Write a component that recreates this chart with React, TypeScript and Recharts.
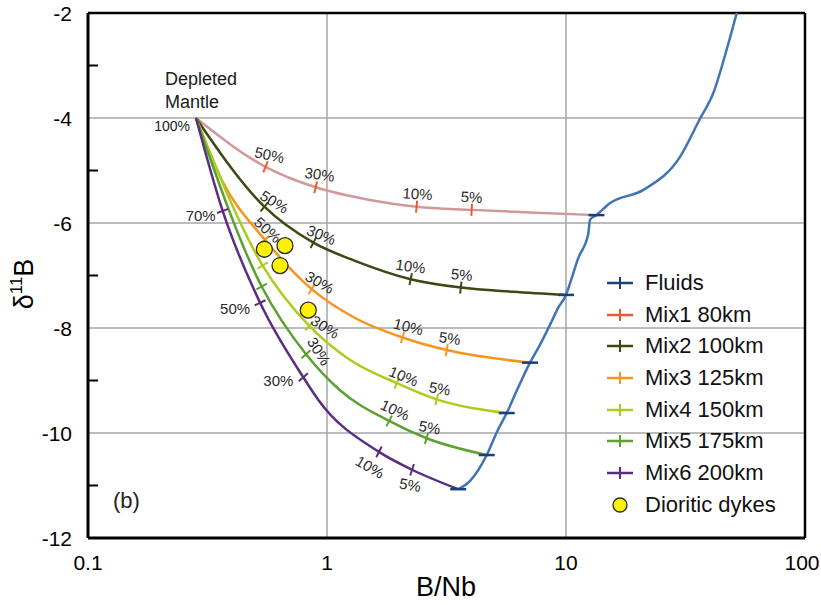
import React from 'react';
import { ComposedChart, Line, Scatter, XAxis, YAxis, ReferenceLine, Customized } from 'recharts';

// ---------- data (B/Nb, δ11B) ----------
const depletedMantle = [{ x: 0.283, y: -4 }];

const fluids = [
  { x: 3.54, y: -11.07 }, { x: 3.97, y: -10.91 }, { x: 4.66, y: -10.42 }, { x: 5.14, y: -9.98 },
  { x: 5.65, y: -9.62 }, { x: 6.3, y: -9.14 }, { x: 7.07, y: -8.66 }, { x: 7.78, y: -8.32 },
  { x: 8.57, y: -7.94 }, { x: 9.26, y: -7.62 }, { x: 10.0, y: -7.37 }, { x: 10.5, y: -7.09 },
  { x: 11.25, y: -6.67 }, { x: 12.4, y: -6.2 }, { x: 12.6, y: -5.94 }, { x: 13.4, y: -5.85 },
  { x: 15.3, y: -5.62 }, { x: 21.1, y: -5.37 }, { x: 30.0, y: -4.74 }, { x: 36.4, y: -4.01 },
  { x: 41.3, y: -3.53 }, { x: 47.0, y: -2.7 }, { x: 51.8, y: -2.0 },
];

const mix1 = [
  { x: 0.283, y: -4 },
  { x: 0.553, y: -4.93, pct: '50%' }, { x: 0.897, y: -5.32, pct: '30%' },
  { x: 1.51, y: -5.56 }, { x: 2.37, y: -5.69, pct: '10%' },
  { x: 4.03, y: -5.75, pct: '5%' }, { x: 7.07, y: -5.8 }, { x: 13.4, y: -5.85 },
];
const mix2 = [
  { x: 0.283, y: -4 },
  { x: 0.547, y: -5.69, pct: '50%' }, { x: 0.877, y: -6.375, pct: '30%' },
  { x: 1.31, y: -6.72 }, { x: 2.24, y: -7.07, pct: '10%' },
  { x: 3.63, y: -7.23, pct: '5%' }, { x: 6.0, y: -7.31 }, { x: 10.0, y: -7.37 },
];
const mix3 = [
  { x: 0.283, y: -4 }, { x: 0.364, y: -5.19 },
  { x: 0.55, y: -6.32, pct: '50%' }, { x: 0.863, y: -7.26, pct: '30%' },
  { x: 1.31, y: -7.81 }, { x: 2.07, y: -8.18, pct: '10%' },
  { x: 3.17, y: -8.42, pct: '5%' }, { x: 7.07, y: -8.66 },
];
const mix4 = [
  { x: 0.283, y: -4 },
  { x: 0.538, y: -6.81, pct: '50%' }, { x: 0.843, y: -7.96, pct: '30%' },
  { x: 1.25, y: -8.61 }, { x: 1.96, y: -9.05, pct: '10%' },
  { x: 2.88, y: -9.36, pct: '5%' }, { x: 5.65, y: -9.62 },
];
const mix5 = [
  { x: 0.283, y: -4 },
  { x: 0.533, y: -7.21, pct: '50%' }, { x: 0.817, y: -8.5, pct: '30%' },
  { x: 1.13, y: -9.18 }, { x: 1.82, y: -9.77, pct: '10%' },
  { x: 2.61, y: -10.1, pct: '5%' }, { x: 4.66, y: -10.42 },
];
const mix6 = [
  { x: 0.283, y: -4 }, { x: 0.366, y: -5.77, pct: '70%' },
  { x: 0.525, y: -7.52, pct: '50%' },
  { x: 0.796, y: -8.94, pct: '30%' }, { x: 0.92, y: -9.37 },
  { x: 1.65, y: -10.36, pct: '10%' }, { x: 2.27, y: -10.7, pct: '5%' }, { x: 3.54, y: -11.07 },
];

const dykes = [
  { x: 0.547, y: -6.5 }, { x: 0.667, y: -6.43 }, { x: 0.636, y: -6.81 }, { x: 0.835, y: -7.66 },
];

const xTicks = [0.1, 1, 10, 100];
const yTicks = [-12, -11, -10, -9, -8, -7, -6, -5, -4, -3, -2];
const gridX = [1, 10];
const gridY = [-4, -6, -8, -10];

// ---------- styles ----------
const FONT = 'Liberation Sans, Arial, Helvetica, sans-serif';
const C = {
  fluid: '#3F74B6', fluidTick: '#1B3F7A',
  mix1: '#D39797', mix1Tick: '#EC5A2C',
  mix2: '#3A4A12', mix3: '#F7941E', mix4: '#AACD1E', mix5: '#5AA032', mix6: '#5A2D82',
  grid: '#A6A6A6',
};

// tangent angle (deg, screen) of curve at tick, label offset and label rotation
type LL = { t: number; dx: number; dy: number; r: number; show?: boolean };
const lay1: Record<string, LL> = {
  '50%': { t: 22, dx: 4, dy: -12, r: 12 }, '30%': { t: 14, dx: 4, dy: -13, r: 8 },
  '10%': { t: 5, dx: 1, dy: -13, r: 4 }, '5%': { t: 3, dx: 0, dy: -13, r: 3 },
};
const lay2: Record<string, LL> = {
  '50%': { t: 40, dx: 10, dy: -5, r: 32 }, '30%': { t: 28, dx: 8, dy: -8, r: 22 },
  '10%': { t: 12, dx: 0, dy: -13, r: 8 }, '5%': { t: 6, dx: 1, dy: -13, r: 5 },
};
const lay3: Record<string, LL> = {
  '50%': { t: 48, dx: 3, dy: -10, r: 42 }, '30%': { t: 32, dx: 8, dy: -7, r: 30 },
  '10%': { t: 16, dx: 6, dy: -11, r: 14 }, '5%': { t: 10, dx: 3, dy: -12, r: 8 },
};
const lay4: Record<string, LL> = {
  '50%': { t: 58, dx: 0, dy: 0, r: 0, show: false }, '30%': { t: 42, dx: 16, dy: 1, r: 32 },
  '10%': { t: 22, dx: 7, dy: -7, r: 22 }, '5%': { t: 14, dx: 3, dy: -11, r: 10 },
};
const lay5: Record<string, LL> = {
  '50%': { t: 62, dx: 0, dy: 0, r: 0, show: false }, '30%': { t: 48, dx: 13, dy: -3, r: 58 },
  '10%': { t: 28, dx: 6, dy: -11, r: 25 }, '5%': { t: 16, dx: 3, dy: -11, r: 10 },
};
const lay6: Record<string, LL> = {
  '70%': { t: 70, dx: -22, dy: 5, r: 0 }, '50%': { t: 65, dx: -25, dy: 6, r: 0 },
  '30%': { t: 48, dx: -25, dy: 3, r: 0 }, '10%': { t: 27, dx: -9, dy: 15, r: 30 },
  '5%': { t: 18, dx: -2, dy: 15, r: 10 },
};

const ticksOf = (arr: any[]) => arr.filter((p) => p.pct);
const fluidTicks = [mix1, mix2, mix3, mix4, mix5, mix6].map((m) => m[m.length - 1]);

const makeTickShape = (color: string, layout: Record<string, LL>) => (props: any) => {
  const { cx, cy, payload } = props;
  if (cx == null || cy == null) return <g />;
  const l = layout[payload.pct] || { t: 0, dx: 0, dy: -12, r: 0 };
  const a = ((l.t + 90) * Math.PI) / 180;
  const h = 6;
  const ex = Math.cos(a) * h;
  const ey = Math.sin(a) * h;
  const lx = cx + l.dx;
  const ly = cy + l.dy;
  return (
    <g>
      <line x1={cx - ex} y1={cy - ey} x2={cx + ex} y2={cy + ey} stroke={color} strokeWidth={2} />
      {l.show !== false && (
        <text
          x={lx}
          y={ly}
          textAnchor="middle"
          dominantBaseline="central"
          fontSize={15}
          fontFamily={FONT}
          fill="#2a2a2a"
          transform={`rotate(${l.r} ${lx} ${ly})`}
        >
          {payload.pct}
        </text>
      )}
    </g>
  );
};

const FluidTickShape = (props: any) => {
  const { cx, cy } = props;
  if (cx == null || cy == null) return <g />;
  return <line x1={cx - 8} y1={cy} x2={cx + 8} y2={cy} stroke={C.fluidTick} strokeWidth={2.5} />;
};

const DykeShape = (props: any) => {
  const { cx, cy } = props;
  if (cx == null || cy == null) return <g />;
  return <circle cx={cx} cy={cy} r={8} fill="#FFF200" stroke="#2b2b2b" strokeWidth={1.3} />;
};

const DMShape = (props: any) => {
  const { cx, cy } = props;
  if (cx == null || cy == null) return <g />;
  return (
    <g fontFamily={FONT} fill="#1a1a1a">
      <text x={cx - 31} y={cy - 33} fontSize={18}>Depleted</text>
      <text x={cx - 31} y={cy - 10} fontSize={18}>Mantle</text>
      <text x={cx - 6} y={cy + 13} fontSize={14} textAnchor="end">100%</text>
    </g>
  );
};

const XTick = (props: any) => {
  const { x, y, payload } = props;
  const v = payload.value;
  return (
    <text x={v === 100 ? x - 3 : x} y={y + 32} textAnchor="middle" fontSize={21} fontFamily={FONT} fill="#000">
      {String(v)}
    </text>
  );
};

const YTick = (props: any) => {
  const { x, y, payload } = props;
  const v = payload.value;
  const even = Math.abs(v) % 2 === 0;
  return (
    <g>
      {!even && <line x1={x} x2={x + 10} y1={y} y2={y} stroke="#000" strokeWidth={2} />}
      {even && (
        <text x={x - 16} y={y + 7.5} textAnchor="end" fontSize={21} fontFamily={FONT} fill="#000">
          {String(v)}
        </text>
      )}
    </g>
  );
};

const Annotations = () => (
  <g fontFamily={FONT} fill="#000">
    <text transform="translate(33 284) rotate(-90)" textAnchor="middle" fontSize={27}>
      δ<tspan fontSize={17} dy={-11}>11</tspan><tspan dy={11}>B</tspan>
    </text>
    <text x={446} y={596} textAnchor="middle" fontSize={27}>B/Nb</text>
    <text x={113} y={508} fontSize={22} fill="#222">(b)</text>
  </g>
);

const legendItems = [
  { name: 'Fluids', color: C.fluidTick },
  { name: 'Mix1 80km', color: C.mix1Tick },
  { name: 'Mix2 100km', color: C.mix2 },
  { name: 'Mix3 125km', color: C.mix3 },
  { name: 'Mix4 150km', color: C.mix4 },
  { name: 'Mix5 175km', color: C.mix5 },
  { name: 'Mix6 200km', color: C.mix6 },
];

const LegendBox = () => (
  <div style={{ position: 'absolute', left: 607, top: 267, fontFamily: FONT, fontSize: 22, color: '#111' }}>
    {legendItems.map((it) => (
      <div key={it.name} style={{ display: 'flex', alignItems: 'center', height: 31.7 }}>
        <svg width={26} height={14} style={{ marginRight: 12 }}>
          <line x1={0} y1={7} x2={26} y2={7} stroke={it.color} strokeWidth={2.5} />
          <line x1={13} y1={1} x2={13} y2={13} stroke={it.color} strokeWidth={2} />
        </svg>
        <span style={{ whiteSpace: 'nowrap' }}>{it.name}</span>
      </div>
    ))}
    <div style={{ display: 'flex', alignItems: 'center', height: 31.7 }}>
      <svg width={26} height={18} style={{ marginRight: 12 }}>
        <circle cx={13} cy={9} r={7} fill="#FFF200" stroke="#2b2b2b" strokeWidth={1.3} />
      </svg>
      <span style={{ whiteSpace: 'nowrap' }}>Dioritic dykes</span>
    </div>
  </div>
);

export default function App() {
  const mixes = [
    { d: mix1, c: C.mix1, tc: C.mix1Tick, l: lay1, n: 'Mix1 80km' },
    { d: mix2, c: C.mix2, tc: C.mix2, l: lay2, n: 'Mix2 100km' },
    { d: mix3, c: C.mix3, tc: C.mix3, l: lay3, n: 'Mix3 125km' },
    { d: mix4, c: C.mix4, tc: C.mix4, l: lay4, n: 'Mix4 150km' },
    { d: mix5, c: C.mix5, tc: C.mix5, l: lay5, n: 'Mix5 175km' },
    { d: mix6, c: C.mix6, tc: C.mix6, l: lay6, n: 'Mix6 200km' },
  ];
  return (
    <div style={{ position: 'absolute', left: 0, top: 0, width: 821, height: 605, background: '#fff' }}>
      <ComposedChart width={821} height={605} margin={{ top: 13, right: 16, bottom: 27, left: 28 }}>
        <XAxis
          dataKey="x"
          type="number"
          scale="log"
          domain={[0.1, 100]}
          ticks={xTicks}
          interval={0}
          allowDataOverflow
          height={40}
          tickSize={0}
          tickMargin={0}
          tickLine={false}
          axisLine={{ stroke: '#000', strokeWidth: 3 }}
          tick={<XTick />}
        />
        <YAxis
          dataKey="y"
          type="number"
          domain={[-12, -2]}
          ticks={yTicks}
          interval={0}
          allowDataOverflow
          width={60}
          tickSize={0}
          tickMargin={0}
          tickLine={false}
          axisLine={{ stroke: '#000', strokeWidth: 3 }}
          tick={<YTick />}
        />
        {gridY.map((v) => (
          <ReferenceLine key={'gy' + v} y={v} stroke={C.grid} strokeWidth={1.5} />
        ))}
        {gridX.map((v) => (
          <ReferenceLine key={'gx' + v} x={v} stroke={C.grid} strokeWidth={1.5} />
        ))}
        <ReferenceLine y={-2} stroke="#000" strokeWidth={2.5} />
        <ReferenceLine x={100} stroke="#000" strokeWidth={2.5} />
        {mixes.map((m) => (
          <Line
            key={m.n}
            data={m.d}
            dataKey="y"
            name={m.n}
            type="monotone"
            stroke={m.c}
            strokeWidth={2.5}
            dot={false}
            activeDot={false}
            isAnimationActive={false}
            legendType="none"
          />
        ))}
        <Line
          data={fluids}
          dataKey="y"
          name="Fluids"
          type="monotone"
          stroke={C.fluid}
          strokeWidth={2.5}
          dot={false}
          activeDot={false}
          isAnimationActive={false}
          legendType="none"
        />
        <Scatter data={fluidTicks} dataKey="y" shape={<FluidTickShape />} isAnimationActive={false} legendType="none" />
        {mixes.map((m) => (
          <Scatter
            key={'t' + m.n}
            data={ticksOf(m.d)}
            dataKey="y"
            shape={makeTickShape(m.tc, m.l)}
            isAnimationActive={false}
            legendType="none"
          />
        ))}
        <Scatter data={depletedMantle} dataKey="y" shape={<DMShape />} isAnimationActive={false} legendType="none" />
        <Scatter data={dykes} dataKey="y" name="Dioritic dykes" shape={<DykeShape />} isAnimationActive={false} legendType="none" />
        <Customized component={Annotations} />
      </ComposedChart>
      <LegendBox />
    </div>
  );
}
